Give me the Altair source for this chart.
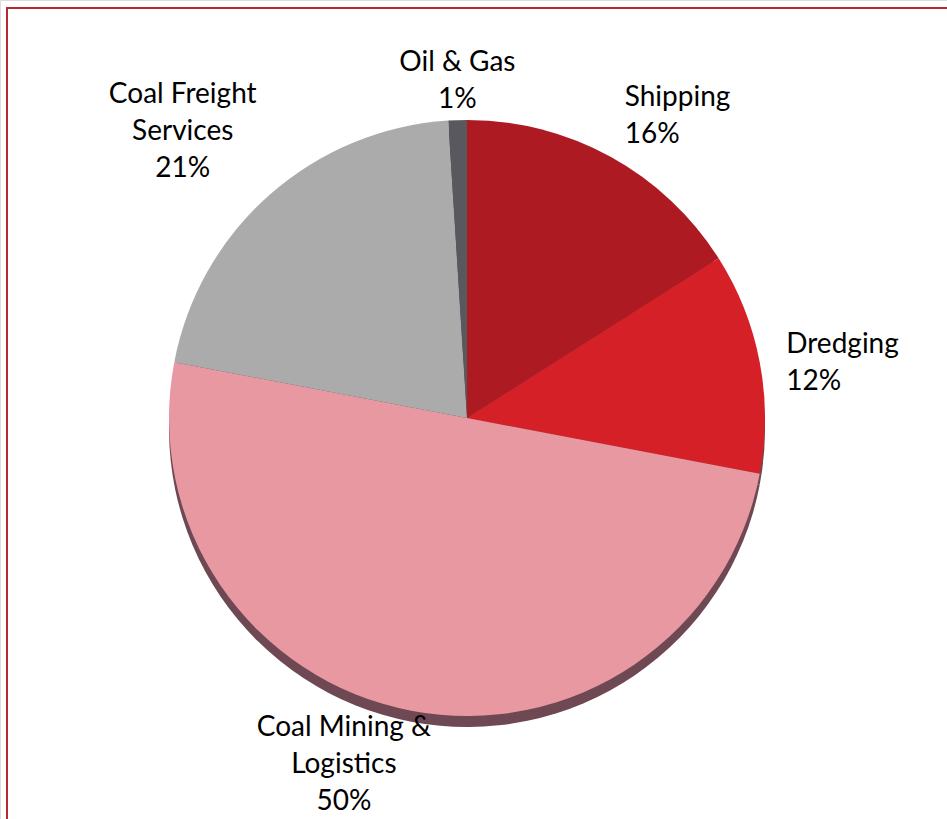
import altair as alt
import pandas as pd

categories = ["Shipping", "Dredging", "Coal Mining & Logistics", "Coal Freight Services", "Oil & Gas"]
label_text = ["Shipping\n16%", "Dredging\n12%", "Coal Mining &\nLogistics\n50%", "Coal Freight\nServices\n21%", "Oil & Gas\n1%"]
shares = [16, 12, 50, 21, 1]
colors = ["#AE1A21", "#D52027", "#E898A1", "#ABABAB", "#58585E"]

df = pd.DataFrame({
    "category": categories,
    "label": label_text,
    "share": shares,
    "idx": list(range(len(categories))),
})

CX, CY, R = 467, 418, 298

color_scale = alt.Scale(domain=categories, range=colors)
theta = alt.Theta("share:Q", stack=True)
order = alt.Order("idx:O")

base = alt.Chart(df)

shadow = base.mark_arc(radius=R, color="#6E4852").encode(
    theta=theta, order=order, x=alt.value(CX), y=alt.value(CY + 11)
)

pie = base.mark_arc(radius=R).encode(
    theta=theta,
    order=order,
    color=alt.Color("category:N", scale=color_scale, legend=None),
    x=alt.value(CX),
    y=alt.value(CY),
)

# label placement styles (radius from centre, alignment, nudges)
label_styles = {
    "Shipping": dict(radius=342, align="left", dx=-7, dy=-20),
    "Dredging": dict(radius=325, align="left", dx=0, dy=-12),
    "Coal Mining & Logistics": dict(radius=353, align="center", dx=-57, dy=-37),
    "Coal Freight Services": dict(radius=383, align="center", dx=-31, dy=-36),
    "Oil & Gas": dict(radius=338, align="center", dx=1, dy=-17),
}

labels = []
for cat, st in label_styles.items():
    labels.append(
        base.mark_text(
            radius=st["radius"], align=st["align"], baseline="middle",
            dx=st["dx"], dy=st["dy"], lineBreak="\n", lineHeight=37,
            font="Lato", fontSize=28, color="#000000",
        ).encode(
            theta=theta,
            order=order,
            text="label:N",
            opacity=alt.condition(alt.datum.category == cat, alt.value(1), alt.value(0)),
            x=alt.value(CX),
            y=alt.value(CY),
        )
    )

border = alt.Chart(df).mark_rect(fill=None, stroke="#B82830", strokeWidth=1.5).encode(
    x=alt.value(7), x2=alt.value(980), y=alt.value(8), y2=alt.value(900)
)

chart = alt.layer(shadow, pie, *labels, border).properties(
    width=947, height=819, padding=0, autosize="none"
).configure_view(stroke=None).configure(background="white")

chart.save("out.html", embed_options={"renderer": "svg", "actions": False})
